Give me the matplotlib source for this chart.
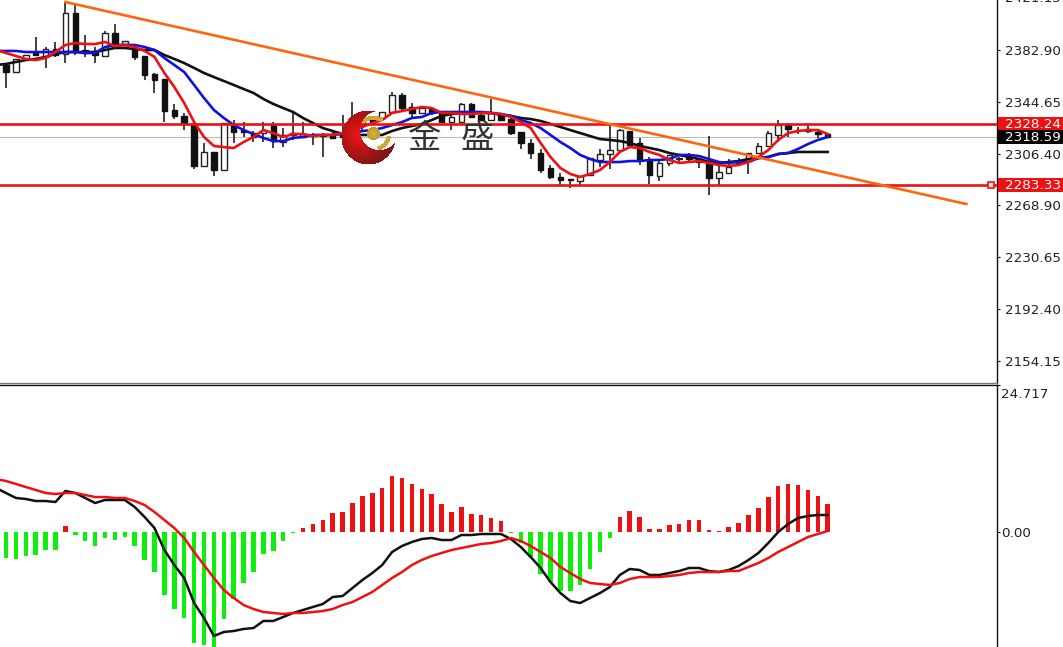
import numpy as np
import matplotlib
matplotlib.use("Agg")
import matplotlib.pyplot as plt
from matplotlib.transforms import blended_transform_factory
from matplotlib.patches import Rectangle

W, H = 1063, 647
opens = [2371.9,2366.7,2376.3,2380.7,2377.8,2383.6,2380,2410,2382.9,2382.2,
 2378.5,2395.4,2387.3,2384.4,2378.5,2365.2,2361.6,2338.8,2334.4,2328.5,
 2297.6,2307.9,2294.6,2327.7,2324,2321.8,2321.8,2327.7,2315.2,2320.4,
 2318.9,2320.4,2320.4,2320.4,2320.4,2332.9,2328.5,2332.1,2332.9,2337.3,
 2349.8,2341,2336.6,2339.5,2336.6,2329.9,2329.9,2343.2,2335.1,2331.4,
 2335.1,2332.1,2322.6,2314.5,2307.1,2296.1,2289.5,2288,2286.5,2291,
 2302,2306.4,2309.3,2323.3,2314.5,2301.2,2290.2,2299.8,2302.7,2304.2,
 2302.7,2299.8,2288.7,2292.4,2301.2,2301.2,2307.1,2312.3,2320.4,2327.7,
 2324,2323.3,2322.6,2321.1]
closes = [2366.7,2376.3,2379.2,2379.2,2383.6,2379.2,2410,2382.9,2380.7,2379.2,
 2395.4,2387.3,2389.5,2377.8,2364.5,2360.8,2338,2334.4,2329.2,2297.6,
 2307.9,2294.6,2329.2,2322.6,2322.6,2318.9,2324,2315.9,2320.4,2321.8,
 2321.1,2319.6,2319.6,2318.2,2318.9,2329.9,2331.4,2329.9,2337.3,2349.8,
 2340.2,2336.6,2340.2,2336.6,2329.9,2333.6,2343.2,2333.6,2331.4,2336.6,
 2331.4,2321.8,2314.5,2307.1,2294.6,2289.5,2287.3,2287.3,2290.2,2303.4,
 2306.4,2309.3,2324,2313,2302,2291,2299.8,2305.7,2303.2,2302.7,
 2300.5,2288.7,2293.2,2296.8,2299.8,2307.1,2312.3,2321.8,2327.7,2324.8,
 2324.2,2324.5,2321.1,2318.59]
highs = [2373.3,2376.3,2379.2,2392.5,2385.1,2388.8,2417.5,2416,2394,2385.1,
 2397,2402,2389.5,2386.6,2378.5,2366,2361.6,2343.2,2336.6,2328.5,
 2314.5,2307.9,2329.2,2331.4,2329.9,2323.3,2329.9,2329.9,2325.5,2337.3,
 2329.9,2321.8,2321.8,2324,2335.1,2344.65,2336,2333.6,2337.3,2352,
 2351.3,2343.9,2341,2341,2337.3,2337.3,2343.9,2343.9,2335.8,2346.9,
 2336,2335.1,2322.6,2317.4,2310.1,2298.3,2292.4,2288,2290.2,2303.4,
 2310.1,2327.7,2324.8,2323.3,2318.2,2304.2,2302,2305.7,2304.2,2307.1,
 2303.4,2319.6,2297.6,2302.7,2303.4,2307.1,2314.5,2323.3,2331.4,2329.2,
 2326.3,2329.2,2323.3,2321.8]
lows = [2355,2366.7,2375.5,2378.5,2369.7,2377.8,2373.3,2379.2,2377.8,2373.3,
 2377.8,2386.6,2386.6,2375.5,2360.8,2351.3,2329.9,2332.1,2324,2295.4,
 2297.6,2290.2,2294.6,2314.5,2318.9,2315.2,2315.2,2310.8,2311.5,2316.7,
 2318.2,2313,2304.2,2317.4,2318.2,2324,2323,2327.7,2332.9,2337.3,
 2338.8,2332.9,2336.6,2335.1,2329.9,2324,2329.9,2332.9,2330.7,2331.4,
 2330.7,2320.4,2310.1,2302.7,2292.4,2288,2283.6,2281.4,2283.6,2291,
 2296.8,2295.4,2307.9,2313,2298.3,2284.3,2286.5,2297.6,2300.5,2300.5,
 2296.1,2276.2,2283.6,2292.4,2298.3,2291.7,2307.1,2312.3,2315.2,2318.9,
 2321.1,2321.8,2318.2,2318.2]

ma_red = [2382.9,2380.7,2378.5,2376.3,2375.5,2377,2381.4,2386.6,2388,2387.3,2387.3,
 2388.8,2385.8,2386.6,2385.1,2382.2,2377.8,2366,2355.7,2343.9,2329.9,
 2318.9,2312.3,2311.5,2310.8,2315.2,2318.9,2324,2321.8,2318.9,2321.1,
 2321.1,2319.6,2320.4,2320.4,2321.8,2324,2326.3,2329.2,2331.4,2336.6,
 2338,2339.5,2341,2340.2,2336.6,2336.6,2335.8,2335.8,2336.6,2336.6,
 2335.8,2333.6,2329.9,2325.5,2314.5,2304.2,2296.1,2291.7,2289.5,2291.7,
 2294.6,2300.5,2307.9,2311.5,2310.8,2307.9,2305.7,2302,2299.8,2300.5,
 2301.2,2299.8,2298.3,2297.6,2298.3,2300.5,2304.2,2309.3,2316.7,2321.8,
 2323.3,2324,2324,2321.1]
ma_blue = [2382.2,2382.2,2382.2,2381.4,2381.4,2381.4,2381.4,2381.4,2381.4,2380.7,2380.7,
 2385.1,2386.6,2386.6,2386.6,2385.1,2382.9,2377,2371.9,2366.7,2357.2,
 2347.6,2338.8,2332.9,2327.7,2324,2321.1,2318.2,2315.9,2315.9,2318.2,
 2318.9,2320.4,2320.4,2320.4,2321.1,2321.8,2323.3,2324,2325.5,2327.7,
 2329.9,2332.9,2333.6,2336.6,2337.3,2337.3,2337.3,2337.3,2337.3,2336.6,
 2335.8,2334.4,2331.4,2329.2,2325.5,2320.4,2315.2,2310.8,2305.7,2302.7,
 2300.5,2300.5,2300.5,2301.2,2301.2,2302,2302,2302.7,2305.7,2305.7,
 2304.9,2302.7,2300.5,2299.8,2300.5,2300.5,2303.4,2304.2,2306.4,2307.1,
 2310.1,2313.7,2316.7,2318.9]
ma_black = [2371.9,2372.6,2374.1,2375.5,2376.3,2377.8,2380,2381.4,2381.4,2381.4,2381.4,
 2382.9,2384.4,2384.4,2383.6,2382.9,2382.9,2379.2,2376.3,2373.3,2369.7,
 2366,2363,2360.1,2357.2,2354.2,2351.3,2346.9,2343.2,2340.2,2337.3,
 2332.9,2329.2,2325.5,2323.3,2321.1,2320.4,2320.4,2320.4,2320.4,2323.3,
 2325.5,2327,2328.5,2331.4,2334.4,2335.8,2336.6,2336.6,2336.6,2336.6,
 2335.1,2334.4,2332.9,2332.1,2330.7,2328.5,2326.3,2324,2321.8,2319.6,
 2317.4,2316.7,2315.9,2314.5,2312.3,2310.8,2309.3,2307.1,2305.7,2304.2,
 2302.7,2300.5,2299.8,2300.5,2301.2,2302.7,2303.4,2304.2,2306.4,2307.1,
 2307.9,2307.9,2307.9,2307.9]

trend_bars = [6, 97]
trend_prices = [2418.2, 2269.6]
level_high, level_low, last_price = 2328.24, 2283.33, 2318.59
price_ticks = [2382.90, 2344.65, 2306.40, 2268.90, 2230.65, 2192.40, 2154.15]

macd_hist = [-4.39,-4.55,-4.05,-3.88,-3.04,-3.04,1.01,-.51,-1.52,-2.36,
 -1.01,-1.35,-.84,-2.36,-4.72,-6.75,-10.63,-12.99,-14.51,-18.73,
 -19.06,-20.24,-14.68,-11.30,-8.60,-6.75,-3.71,-3.21,-1.52,-.17,
 .67,1.35,2.02,3.21,3.37,4.89,6.07,6.58,7.42,9.45,
 9.11,8.10,7.25,6.41,4.72,3.37,4.22,3.04,2.87,2.36,
 1.86,-.17,-1.86,-4.22,-7.09,-8.44,-9.95,-9.95,-8.94,-6.24,
 -3.37,-1.01,2.53,3.54,2.53,.51,.51,1.18,1.35,2.02,
 2.02,.34,.17,.84,1.52,2.87,4.05,5.90,7.76,8.10,
 7.93,7.09,6.07,4.72]
macd_line = [7.42,6.58,5.74,5.57,5.23,5.23,5.06,6.92,6.58,5.74,4.89,
 5.40,5.40,5.40,4.22,2.53,.67,-3.04,-5.57,-7.76,-11.98,
 -14.51,-17.54,-16.87,-16.70,-16.36,-16.20,-15.01,-15.01,-14.34,-13.66,
 -13.16,-12.65,-12.15,-10.97,-10.80,-9.45,-8.10,-6.92,-5.57,-3.37,
 -2.36,-1.69,-1.18,-1.01,-1.35,-1.35,-.51,-.51,-.34,-.34,
 -.34,-1.18,-2.53,-4.22,-6.07,-8.44,-10.29,-11.64,-11.98,-11.13,
 -10.29,-9.28,-7.25,-6.24,-6.41,-7.25,-7.25,-6.92,-6.58,-6.07,
 -6.07,-6.58,-6.75,-6.41,-5.74,-4.72,-3.54,-1.86,0,1.35,
 2.36,2.70,2.87,2.87]
macd_signal = [8.94,8.60,8.10,7.59,7.09,6.58,6.41,6.58,6.58,6.24,5.90,
 5.90,5.74,5.74,5.23,4.55,3.37,2.02,.67,-1.01,-3.37,
 -5.57,-7.76,-9.78,-11.13,-12.32,-12.99,-13.50,-13.66,-13.83,-13.66,
 -13.66,-13.50,-13.33,-12.99,-12.32,-11.81,-10.97,-10.12,-8.94,-7.76,
 -6.75,-5.57,-4.72,-4.05,-3.54,-3.04,-2.70,-2.36,-2.02,-1.86,
 -1.52,-1.01,-1.52,-2.36,-3.37,-4.39,-5.90,-6.92,-7.93,-8.60,
 -8.77,-8.94,-8.60,-7.93,-7.59,-7.59,-7.59,-7.42,-7.25,-6.92,
 -6.75,-6.75,-6.75,-6.58,-6.58,-5.90,-5.23,-4.39,-3.37,-2.53,
 -1.69,-.84,-.34,.17]
macd_ticks = [24.717, 0.00]

RED, GREEN, BLUE, ORANGE = "#ee1111", "#0cf00c", "#1010e0", "#ff6410"
INK = "#222222"
FS = 9.7
plt.rcParams["font.family"] = ["DejaVu Sans"]

fig = plt.figure(figsize=(W / 100, H / 100), dpi=100, facecolor="white")

def px_axes(x0, y0, x1, y1):
    return fig.add_axes([x0 / W, 1 - y1 / H, (x1 - x0) / W, (y1 - y0) / H],
                        facecolor="none", zorder=5)

ax = px_axes(0, 0, 997, 383)
bx = px_axes(0, 385, 997, 647)
xlim = (-6 / 9.9, 991 / 9.9)
slope = 0.7356
for a in (ax, bx):
    a.set_xlim(*xlim)
    a.set_xticks([])
    a.yaxis.tick_right()
    for s in ("left", "bottom"):
        a.spines[s].set_visible(False)
    a.spines["right"].set_linewidth(1.0)
    a.spines["right"].set_color("#111111")
    a.tick_params(axis="y", length=2.5, width=0.8, pad=3, labelsize=FS,
                  labelcolor=INK, color="#111111")
bx.tick_params(axis="y", pad=0.7)
ax.spines["top"].set_visible(False)
ax.spines["bottom"].set_visible(True)
ax.spines["bottom"].set_color("#777777")
ax.spines["bottom"].set_linewidth(1.0)
bx.spines["top"].set_linewidth(1.0)
bx.spines["top"].set_color("#111111")
ax.set_ylim(2382.9 - 333 * slope, 2382.9 + 50 * slope)
bx.set_ylim(-115 * 0.1687, 147 * 0.1687)

# logo watermark, painted over the price panel
size = 62
yy, xx = np.mgrid[0:size, 0:size].astype(float)
cx, cy = 29.0, 31.0
logo = np.zeros((size, size, 4))
r_out = np.hypot(xx - cx, yy - cy)
r_in = np.hypot(xx - cx - 11, yy - cy + 7)
cres = (r_out < 27) & (r_in > 19.5)
shade = np.clip(np.hypot(xx - cx + 8, yy - cy + 3) / 30, 0, 1)
n = cres.sum()
logo[cres] = np.c_[0.95 - 0.42 * shade[cres], 0.08 * np.ones(n), 0.08 * np.ones(n), np.ones(n)]
gx, gy = cx + 5, cy - 4
r_g = np.hypot(xx - gx, yy - gy)
ang = np.degrees(np.arctan2(gy - yy, xx - gx))
ring = (r_g > 13.5) & (r_g < 18) & (((ang > 55) & (ang < 135)) | ((ang > -75) & (ang < -10)))
logo[ring & ~cres] = [0.80, 0.66, 0.22, 1]
ball = r_g < 6.7
logo[ball] = np.c_[0.86 - 0.02 * r_g[ball], 0.72 - 0.02 * r_g[ball],
                   0.22 * np.ones(ball.sum()), np.ones(ball.sum())]
fig.figimage(logo, xo=339, yo=H - 168, origin="upper", zorder=20)
for ch, xp in (("\u91d1", 424), ("\u76db", 477)):
    fig.text(xp / W, 1 - 138 / H, ch, family="Noto Sans CJK SC", fontsize=24,
             color="#333333", ha="center", va="center", zorder=21)

# candles
bars = np.arange(len(opens))
o, c, hi, lo = map(np.array, (opens, closes, highs, lows))
ax.vlines(bars, lo, hi, color="#222222", lw=1.2, zorder=2)
up = c >= o
body = 0.55
ax.bar(bars[up], (c - o)[up], bottom=o[up], width=body, facecolor="white",
       edgecolor="#222222", lw=1.0, zorder=3)
ax.bar(bars[~up], (o - c)[~up], bottom=c[~up], width=body, facecolor="#111111",
       edgecolor="#111111", lw=1.0, zorder=3)

# moving averages, levels and trend line
line_x = np.arange(-1, len(opens))
ax.axhline(last_price, color="#bbbbbb", lw=0.8, zorder=1.5)
ax.plot(line_x, ma_black, color="#111111", lw=1.9, zorder=4)
ax.plot(line_x, ma_blue, color=BLUE, lw=1.9, zorder=5)
ax.plot(line_x, ma_red, color=RED, lw=1.9, zorder=6)
ax.axhline(level_high, color=RED, lw=1.9, zorder=6)
ax.axhline(level_low, color=RED, lw=1.9, zorder=6)
ax.plot(trend_bars, trend_prices, color=ORANGE, lw=1.9, zorder=7)
ax.plot([99.5], [level_low], marker="s", ms=4.5, mfc="#ffdddd", mec=RED, mew=1.2,
        zorder=8, clip_on=False)

# price axis
ax.set_yticks(price_ticks)
ax.set_yticklabels([f"{v:.2f}" for v in price_ticks])
trans = blended_transform_factory(ax.transAxes, ax.transData)
ax.text(1005 / 997, 2421.15, "2421.15", transform=trans, fontsize=FS, color=INK,
        ha="left", va="center", clip_on=False)
for val, bg in ((level_high, RED), (last_price, "black"), (level_low, RED)):
    ax.add_patch(Rectangle((998 / 997, val - 7 * slope), 65 / 997, 14 * slope,
                           transform=trans, facecolor=bg, edgecolor="none",
                           clip_on=False, zorder=9))
    ax.text(1005 / 997, val, f"{val:.2f}", transform=trans, fontsize=FS,
            color="white", ha="left", va="center", clip_on=False, zorder=10)

# MACD panel
h = np.array(macd_hist)
bars2 = np.arange(len(h))
bx.bar(bars2, h, width=0.45, color=np.where(h >= 0, RED, GREEN), zorder=2)
bx.plot(line_x, macd_line, color="#111111", lw=1.8, zorder=3)
bx.plot(line_x, macd_signal, color=RED, lw=1.8, zorder=4)
bx.set_yticks(macd_ticks)
bx.set_yticklabels(["", "0.00"])
tb = blended_transform_factory(bx.transAxes, bx.transData)
bx.annotate("24.717", xy=(1, macd_ticks[0]), xycoords=tb, xytext=(3.24, -6.84),
            textcoords="offset points", fontsize=FS, color=INK, ha="left", va="center",
            annotation_clip=False)

fig.savefig("out.png", dpi=100, facecolor="white")
